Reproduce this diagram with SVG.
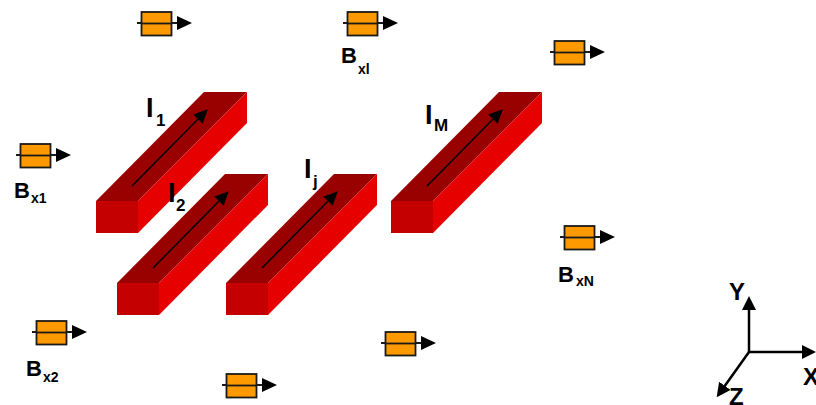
<svg xmlns="http://www.w3.org/2000/svg" width="816" height="405" viewBox="0 0 816 405">
<defs>
<marker id="ah" viewBox="0 0 15 14" refX="0" refY="7" markerWidth="15" markerHeight="14" markerUnits="userSpaceOnUse" orient="auto"><path d="M0 0L15 7L0 14Z" fill="#000"/></marker>
<marker id="cur" viewBox="0 0 14 13" refX="10" refY="6.5" markerWidth="14" markerHeight="13" markerUnits="userSpaceOnUse" orient="auto"><path d="M0 0L14 6.5L0 13Z" fill="#000"/></marker>
<marker id="ax" viewBox="0 0 14 14" refX="10" refY="7" markerWidth="14" markerHeight="14" markerUnits="userSpaceOnUse" orient="auto"><path d="M0 0L14 7L0 14Z" fill="#000"/></marker>
<g id="bar">
<path class="top" d="M0 109L108 0H151L42 109Z"/>
<path class="side" d="M42 109L151 0V31L42 141Z"/>
<rect class="front" x="0" y="109" width="42" height="32"/>
<path class="cl" d="M36 94L109 20" marker-end="url(#cur)"/>
</g>
<g id="sensor">
<path class="sl" d="M-4 11H36" marker-end="url(#ah)"/>
<rect class="sb" x="0.5" y="0" width="30" height="23.500"/>
<path class="sl" d="M0 11.500H30"/>
</g>
</defs>
<style>
.top{fill:#990000}
.side{fill:#e60000}
.front{fill:#c40000}
.cl{fill:none;stroke:#000;stroke-width:1.500}
.sb{fill:#ff9900;stroke:#1a1a1a;stroke-width:1.800}
.sl{fill:none;stroke:#1a1a1a;stroke-width:1.800}
.ax{fill:none;stroke:#000;stroke-width:2.500}
text{font-family:"Liberation Sans",Arial,sans-serif;font-weight:bold;fill:#000}
.big{font-size:27px}
.sub{font-size:17px}
.b{font-size:22px}
.bs{font-size:14px}
.xyz{font-size:24px}
</style>
<g id="bar-1"><use href="#bar" x="96" y="92"/></g>
<g id="bar-2"><use href="#bar" x="117" y="174"/></g>
<g id="bar-j"><use href="#bar" x="226" y="174"/></g>
<g id="bar-M"><use href="#bar" x="391" y="92"/></g>
<g id="sensor-top-1"><use href="#sensor" x="141" y="12"/></g>
<g id="sensor-i"><use href="#sensor" x="347" y="12"/></g>
<g id="sensor-top-3"><use href="#sensor" x="554" y="41"/></g>
<g id="sensor-1"><use href="#sensor" x="20" y="144"/></g>
<g id="sensor-N"><use href="#sensor" x="564" y="226"/></g>
<g id="sensor-2"><use href="#sensor" x="36" y="321"/></g>
<g id="sensor-bottom-1"><use href="#sensor" x="385" y="332"/></g>
<g id="sensor-bottom-2"><use href="#sensor" x="226" y="374"/></g>
<g id="label-I1"><text class="big" x="146" y="117">I</text><text class="sub" x="156" y="126">1</text></g>
<g id="label-I2"><text class="big" x="168" y="202">I</text><text class="sub" x="176" y="211">2</text></g>
<g id="label-Ij"><text class="big" x="304" y="178">I</text><text class="sub" x="313" y="187">j</text></g>
<g id="label-IM"><text class="big" x="425" y="124">I</text><text class="sub" x="434" y="131">M</text></g>
<g id="label-B1"><text class="b" x="14" y="198">B</text><text class="bs" x="31" y="203">x1</text></g>
<g id="label-Bi"><text class="b" x="341" y="63">B</text><text class="bs" x="358" y="74">xl</text></g>
<g id="label-BN"><text class="b" x="558" y="282">B</text><text class="bs" x="576" y="286">xN</text></g>
<g id="label-B2"><text class="b" x="26" y="376">B</text><text class="bs" x="43" y="382">x2</text></g>
<g id="connectors">
<path class="ax" d="M749 352V300" marker-end="url(#ax)"/>
<path class="ax" d="M749 352H812" marker-end="url(#ax)"/>
<path class="ax" d="M749 352L719 394" marker-end="url(#ax)"/>
</g>
<g id="axis-labels">
<text class="xyz" x="729" y="300">Y</text>
<text class="xyz" x="803" y="385">X</text>
<text class="xyz" x="729" y="405">Z</text>
</g>
</svg>
